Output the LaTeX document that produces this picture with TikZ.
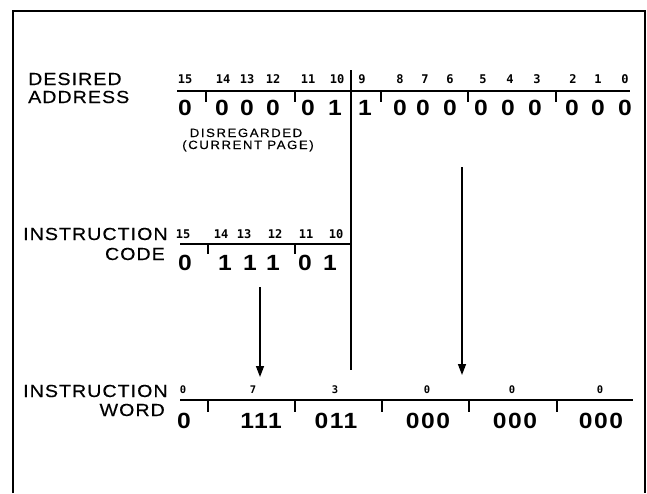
\documentclass[tikz,border=0pt]{standalone}
\usepackage{fontspec}
\setmainfont{Liberation Sans}
\newfontfamily\capfont[FakeStretch=1.12,LetterSpace=6,FakeBold=0.4]{Liberation Sans}
\newfontfamily\notefont[FakeStretch=1.1,LetterSpace=13,FakeBold=0.3]{Liberation Sans}
\newfontfamily\digfont[FakeStretch=1.12,LetterSpace=7]{Liberation Sans}
\newfontfamily\bitfont{DejaVu Sans Mono}
\usetikzlibrary{arrows.meta}
\tikzset{
  caption/.style={inner sep=0pt, anchor=base west, font=\capfont\fontsize{17.5}{17.5}\selectfont},
  captionr/.style={caption, anchor=base east},
  digit/.style={inner sep=0pt, anchor=base, font=\digfont\bfseries\fontsize{22}{22}\selectfont},
  bitno/.style={inner sep=0pt, anchor=base, font=\bitfont\bfseries\fontsize{12}{12}\selectfont},
  bitsmall/.style={bitno, font=\bitfont\bfseries\fontsize{10.5}{10.5}\selectfont},
  note/.style={inner sep=0pt, anchor=base, font=\notefont\fontsize{12}{12}\selectfont},
  rowline/.style={line width=1.5pt},
  tickline/.style={line width=1.2pt},
  frameline/.style={line width=2pt},
  flow/.style={line width=1.4pt, -{Triangle[width=8pt,length=11pt]}},
}
\begin{document}
\begin{tikzpicture}[x=1pt, y=-1pt]
\useasboundingbox (0,0) rectangle (647,493);

% open frame
\coordinate (fbl) at (13,493);
\coordinate (ftl) at (13,11);
\coordinate (ftr) at (645,11);
\coordinate (fbr) at (645,493);
\draw[frameline] (fbl) -- (ftl) -- (ftr) -- (fbr);

% ---- desired address ----
\node[caption] (desA) at (28,85) {DESIRED};
\node[caption] (desB) at (28,103) {ADDRESS};
\foreach \x/\b in {185/15,223/14,247/13,273/12,308/11,337/10,362/9,400/8,
                   425/7,450/6,483/5,510/4,537/3,573/2,598/1,625/0}
  \node[bitno] (db\b) at (\x,83) {\b};
\foreach \x/\d/\n in {185/0/15,222/0/14,247/0/13,273/0/12,308/0/11,335/1/10,
                      365/1/9,400/0/8,423/0/7,450/0/6,481/0/5,508/0/4,535/0/3,
                      572/0/2,598/0/1,625/0/0}
  \node[digit] (dd\n) at (\x,115) {\d};
\coordinate (dl) at (177,91);
\coordinate (dr) at (630,91);
\draw[rowline] (dl) -- (dr);
\foreach \x in {206,295,381,468,556}
  \draw[tickline] (\x,91) -- (\x,102);
\node[note] (disA) at (246,137) {DISREGARDED};
\node[note] (disB) at (248,149) {(CURRENT PAGE)};

% page boundary line
\coordinate (vtop) at (351,70);
\coordinate (vbot) at (351,370);
\draw[rowline] (vtop) -- (vbot);

% ---- instruction code ----
\node[caption] (codA) at (23,240) {INSTRUCTION};
\node[captionr] (codB) at (165,260) {CODE};
\foreach \x/\b in {183/15,221/14,244/13,275/12,306/11,336/10}
  \node[bitno] (cb\b) at (\x,238) {\b};
\foreach \x/\d/\n in {185/0/15,225/1/14,250/1/13,273/1/12,305/0/11,330/1/10}
  \node[digit] (cd\n) at (\x,270) {\d};
\coordinate (cl) at (180,244);
\coordinate (cr) at (351,244);
\draw[rowline] (cl) -- (cr);
\foreach \x in {208,295}
  \draw[tickline] (\x,244) -- (\x,254);

% ---- instruction word ----
\node[caption] (wrdA) at (23,397) {INSTRUCTION};
\node[captionr] (wrdB) at (165,416) {WORD};
\node[bitsmall] (wb0) at (183,393) {0};
\node[bitsmall] (wb1) at (253,393) {7};
\node[bitsmall] (wb2) at (335,393) {3};
\node[bitsmall] (wb3) at (427,393) {0};
\node[bitsmall] (wb4) at (512,393) {0};
\node[bitsmall] (wb5) at (600,393) {0};
\node[digit] (wd0) at (184,428) {0};
\node[digit] (wd1) at (261,428) {111};
\node[digit] (wd2) at (336,428) {011};
\node[digit] (wd3) at (428,428) {000};
\node[digit] (wd4) at (515,428) {000};
\node[digit] (wd5) at (601,428) {000};
\coordinate (wl) at (180,400);
\coordinate (wr) at (633,400);
\draw[rowline] (wl) -- (wr);
\foreach \x in {208,295,382,469,557}
  \draw[tickline] (\x,400) -- (\x,412);

% ---- transfers ----
\coordinate (a1s) at (260,287);
\coordinate (a1e) at (260,377);
\draw[flow] (a1s) -- (a1e);
\coordinate (a2s) at (462,167);
\coordinate (a2e) at (462,375);
\draw[flow] (a2s) -- (a2e);
\end{tikzpicture}
\end{document}
